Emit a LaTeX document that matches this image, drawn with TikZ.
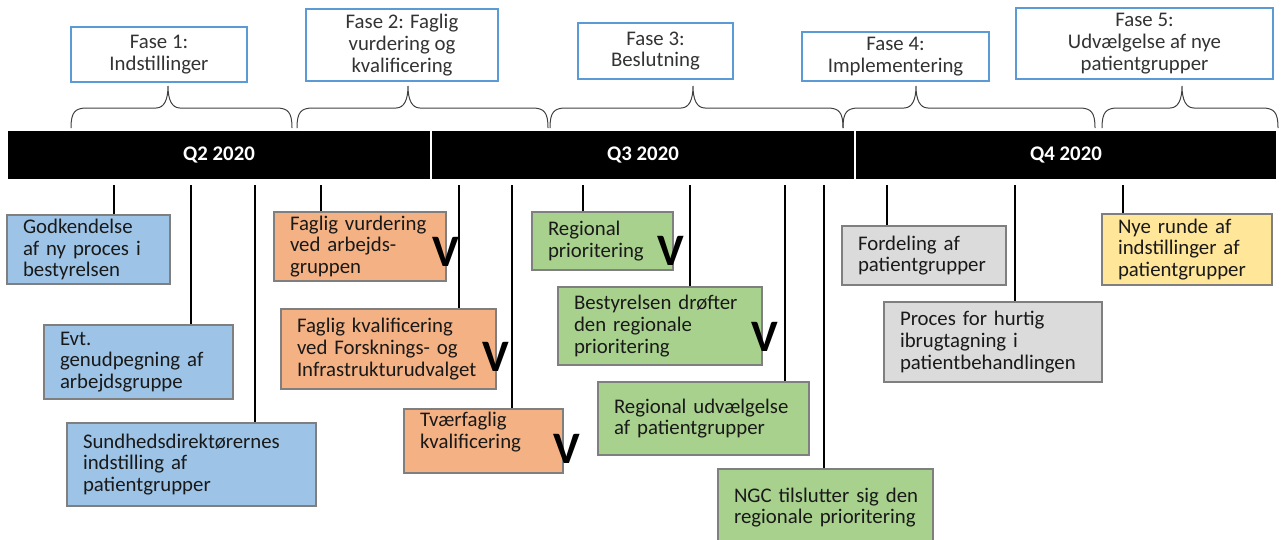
\documentclass[tikz,border=0pt]{standalone}
\usepackage{fontspec}
\setmainfont{Carlito}
\usepackage{tikz}
\usetikzlibrary{positioning}

\definecolor{phaseline}{HTML}{5B9BD5}
\definecolor{boxline}{HTML}{7F7F7F}
\definecolor{bluefill}{HTML}{9DC3E6}
\definecolor{orangefill}{HTML}{F4B183}
\definecolor{greenfill}{HTML}{A9D18E}
\definecolor{grayfill}{HTML}{DBDBDB}
\definecolor{yellowfill}{HTML}{FFE699}
\definecolor{bracegray}{HTML}{404040}
\hyphenpenalty=10000
\exhyphenpenalty=10000

\newcommand{\phbrace}[3]{%
  \draw[brace] (#1,128) .. controls (#1,112) and (#1+4,108) .. (#1+16,108)
    -- (#2-12,108) .. controls (#2-4,108) and (#2,100) .. (#2,86)
    .. controls (#2,100) and (#2+4,108) .. (#2+12,108)
    -- (#3-16,108) .. controls (#3-4,108) and (#3,112) .. (#3,128);}

\begin{document}
\begin{tikzpicture}[x=1pt,y=-1pt,
    txt/.style={font=\fontsize{20.8}{21.7}\selectfont},
    phase/.style={txt,draw=phaseline,fill=white,line width=1.6pt,align=center,
      text=black!80,inner sep=0pt},
    quarter/.style={fill=black,draw=white,line width=2pt,minimum height=50pt,
      text=white,font=\fontsize{20.8}{21.7}\selectfont\bfseries,inner sep=0pt},
    event/.style={txt,draw=boxline,line width=1.8pt,align=left,text=black!90,
      inner xsep=16pt,inner ysep=0pt},
    tick/.style={line width=2.2pt},
    brace/.style={draw=bracegray,line width=1pt},
    vmark/.style={font=\fontsize{45}{45}\selectfont\bfseries,inner sep=0pt}]
   \useasboundingbox (0,0) rectangle (1281,539);

   \node[quarter,minimum width=424pt] (q_2) at (219,155) {Q2 2020};
   \node[quarter,minimum width=424pt] (q_3) at (643,155) {Q3 2020};
   \node[quarter,minimum width=422pt] (q_4) at (1066,155) {Q4 2020};

   \node[phase,minimum width=176pt,minimum height=55pt] (ph_1) at (159,54.5) {Fase 1:\\Indstillinger};
   \node[phase,minimum width=192pt,minimum height=72pt] (ph_2) at (402,45) {Fase 2: Faglig\\vurdering og\\kvalificering};
   \node[phase,minimum width=155pt,minimum height=56pt] (ph_3) at (655.5,51) {Fase 3:\\Beslutning};
   \node[phase,minimum width=187pt,minimum height=49pt] (ph_4) at (895.5,56.5) {Fase 4:\\Implementering};
   \node[phase,minimum width=257pt,minimum height=71pt] (ph_5) at (1144.5,43.5) {Fase 5:\\Udvælgelse af nye\\patientgrupper};

   \phbrace{71}{168}{292}
   \phbrace{297}{408}{548}
   \phbrace{550}{693}{843}
   \phbrace{843}{916}{1095}
   \phbrace{1102}{1182}{1278}

   \node[event,fill=bluefill,text width=131pt,minimum height=69pt] (ev_1) at (88.5,249.5) {Godkendelse\\af ny proces i\\bestyrelsen};
   \node[event,fill=bluefill,text width=157pt,minimum height=74pt] (ev_2) at (138.5,362) {Evt.\\genudpegning af\\arbejdsgruppe};
   \node[event,fill=bluefill,text width=217pt,minimum height=83pt] (ev_3) at (191.5,464.5) {Sundhedsdirektørernes\\indstilling af\\patientgrupper};
   \node[event,fill=orangefill,text width=140pt,minimum height=69pt] (ev_4) at (360,246.5) {Faglig vurdering\\ved arbejds-\\gruppen};
   \node[event,fill=orangefill,text width=183pt,minimum height=80pt] (ev_5) at (388.5,349) {Faglig kvalificering\\ved Forsknings- og\\Infrastrukturudvalget};
   \node[event,fill=orangefill,text width=127pt,minimum height=64pt] (ev_6) at (483.5,441) {Tværfaglig\\kvalificering\\\mbox{}};
   \node[event,fill=greenfill,text width=109pt,minimum height=58pt] (ev_7) at (602.5,241) {Regional\\prioritering};
   \node[event,fill=greenfill,text width=172pt,minimum height=78pt] (ev_8) at (660,326) {Bestyrelsen drøfter\\den regionale\\prioritering};
   \node[event,fill=greenfill,text width=179pt,minimum height=73pt] (ev_9) at (703.5,418.5) {\mbox{Regional udvælgelse}\\af patientgrupper};
   \node[event,fill=greenfill,text width=183pt,minimum height=77pt] (ev_10) at (825.5,507.5) {\mbox{NGC tilslutter sig den}\\\mbox{regionale prioritering}};
   \node[event,fill=grayfill,text width=132pt,minimum height=59pt] (ev_11) at (924,255.5) {Fordeling af\\patientgrupper};
   \node[event,fill=grayfill,text width=186pt,minimum height=80pt] (ev_12) at (993,342) {Proces for hurtig\\ibrugtagning i\\patientbehandlingen};
   \node[event,fill=yellowfill,text width=138pt,minimum height=71pt] (ev_13) at (1187,249.5) {Nye runde af\\indstillinger af\\patientgrupper};

   \foreach \n/\x in {1/114,2/191,3/255,4/321,5/459,6/512,7/583,8/690,9/785,10/824,11/887,12/1015,13/1123}{
     \coordinate (t_\n) at (\x,185);
     \draw[tick] (t_\n) -- (t_\n |- ev_\n.north);
   }

   \node[vmark] (v_1) at (446,252) {V};
   \node[vmark] (v_2) at (496,357) {V};
   \node[vmark] (v_3) at (567,449) {V};
   \node[vmark] (v_4) at (671,251) {V};
   \node[vmark] (v_5) at (765,337) {V};
\end{tikzpicture}
\end{document}
